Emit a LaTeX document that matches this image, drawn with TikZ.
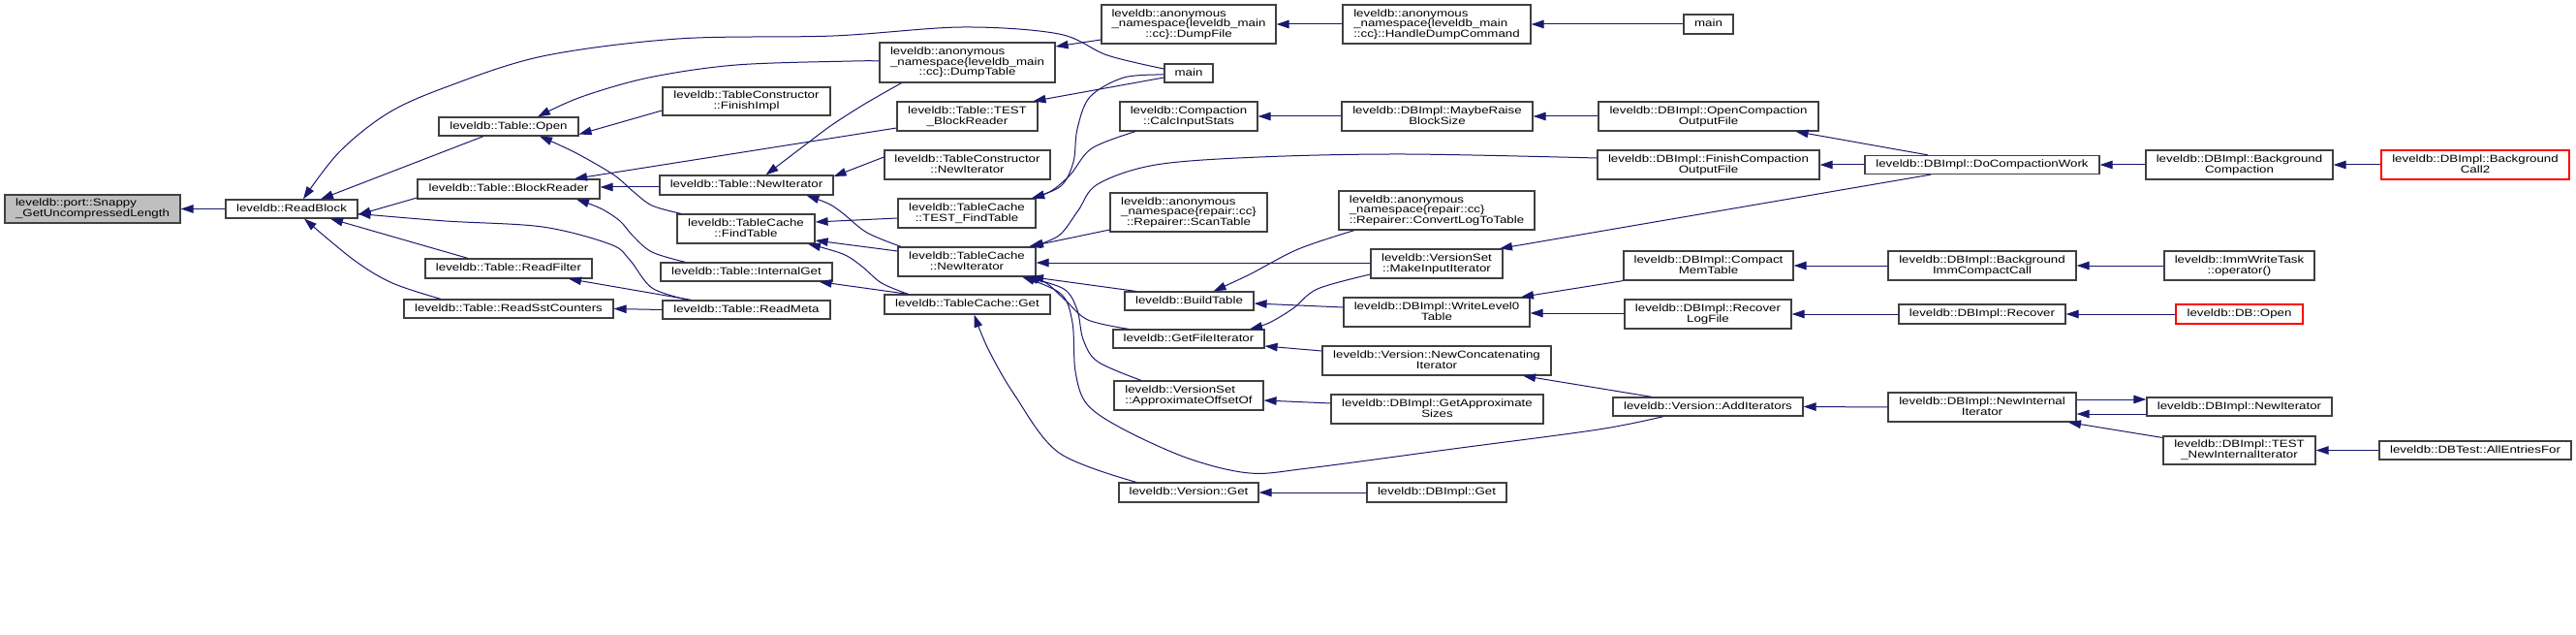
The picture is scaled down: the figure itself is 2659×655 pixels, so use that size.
\documentclass[tikz,border=0pt]{standalone}
\usepackage{fontspec}
\usepackage{graphicx}
\setmainfont{Liberation Sans}
\usetikzlibrary{arrows.meta}
\definecolor{edgeblue}{HTML}{191970}
\definecolor{boxline}{HTML}{404040}
\newcommand\one[1]{\scalebox{1}[0.8]{\vphantom{(}#1}}
\newcommand\twol[2]{\scalebox{1}[0.8]{\vphantom{(}\vbox{\baselineskip=13.4pt\lineskiplimit=-100pt\lineskip=0pt\halign{##\hfil\cr#1\cr\omit\hfil#2\hfil\cr}}}}
\newcommand\threel[3]{\scalebox{1}[0.8]{\vphantom{(}\vbox{\baselineskip=13.4pt\lineskiplimit=-100pt\lineskip=0pt\halign{##\hfil\cr#1\cr#2\cr\omit\hfil#3\hfil\cr}}}}
\begin{document}
\begin{tikzpicture}[x=1pt,y=-1pt,
  box/.style={draw=boxline, line width=1.2pt, fill=white, inner sep=0pt,
    font=\fontsize{13.3}{13.4}\selectfont, text=black},
  redbox/.style={box, draw=red},
  sz/.style 2 args={minimum width=#1pt, minimum height=#2pt},
  edge/.style={draw=edgeblue, line width=1pt, -{Triangle[length=13pt,width=8.5pt]}},
  sm/.style={smooth, tension=0.55}]
\fill[white] (0,0) rectangle (2659,655);
\useasboundingbox (0,0) rectangle (2659,655);

% column 0-1
\node[box, fill={rgb,255:red,191;green,191;blue,191}, sz={181}{29}] (snappy) at (95.5,215.5) {\twol{leveldb::port::Snappy}{\_GetUncompressedLength}};
\node[box, sz={136}{19}] (readblock) at (301,215.5) {\one{leveldb::ReadBlock}};
% column 2
\node[box, sz={144}{19}] (open) at (525,130.5) {\one{leveldb::Table::Open}};
\node[box, sz={188}{20}] (blockreader) at (525,195) {\one{leveldb::Table::BlockReader}};
\node[box, sz={172}{20}] (readfilter) at (525,277) {\one{leveldb::Table::ReadFilter}};
\node[box, sz={216}{19}] (readsst) at (525,318.5) {\one{leveldb::Table::ReadSstCounters}};
% column 3
\node[box, sz={173}{29}] (finishimpl) at (770.5,104.5) {\twol{leveldb::TableConstructor}{::FinishImpl}};
\node[box, sz={179}{20}] (tnewiter) at (770.5,191) {\one{leveldb::Table::NewIterator}};
\node[box, sz={142}{30}] (findtable) at (770,236) {\twol{leveldb::TableCache}{::FindTable}};
\node[box, sz={177}{19}] (internalget) at (770.5,280.5) {\one{leveldb::Table::InternalGet}};
\node[box, sz={173}{19}] (readmeta) at (770.5,319.5) {\one{leveldb::Table::ReadMeta}};
% column 4
\node[box, sz={181}{41}] (dumptable) at (998.5,64.5) {\threel{leveldb::anonymous}{\_namespace\{leveldb\_main}{::cc\}::DumpTable}};
\node[box, sz={145}{30}] (testblockreader) at (998.5,120) {\twol{leveldb::Table::TEST}{\_BlockReader}};
\node[box, sz={171}{30}] (tcnewiter) at (998.5,170) {\twol{leveldb::TableConstructor}{::NewIterator}};
\node[box, sz={142}{30}] (testfindtable) at (998,220) {\twol{leveldb::TableCache}{::TEST\_FindTable}};
\node[box, sz={142}{30}] (tcachenewiter) at (998,270) {\twol{leveldb::TableCache}{::NewIterator}};
\node[box, sz={171}{20}] (tcacheget) at (998.5,314) {\one{leveldb::TableCache::Get}};
% column 5
\node[box, sz={180}{40}] (dumpfile) at (1227,25) {\threel{leveldb::anonymous}{\_namespace\{leveldb\_main}{::cc\}::DumpFile}};
\node[box, sz={50}{19}] (main1) at (1227,75.5) {\one{main}};
\node[box, sz={142}{30}] (calcinputstats) at (1227,120) {\twol{leveldb::Compaction}{::CalcInputStats}};
\node[box, sz={162}{40}] (scantable) at (1227,219) {\threel{leveldb::anonymous}{\_namespace\{repair::cc\}}{::Repairer::ScanTable}};
\node[box, sz={133}{19}] (buildtable) at (1227.5,310.5) {\one{leveldb::BuildTable}};
\node[box, sz={156}{19}] (getfileiter) at (1227,349.5) {\one{leveldb::GetFileIterator}};
\node[box, sz={154}{30}] (approxoffset) at (1227,408) {\twol{leveldb::VersionSet}{::ApproximateOffsetOf}};
\node[box, sz={144}{20}] (versionget) at (1227,508) {\one{leveldb::Version::Get}};
% column 6
\node[box, sz={194}{40}] (handledump) at (1483,25) {\threel{leveldb::anonymous}{\_namespace\{leveldb\_main}{::cc\}::HandleDumpCommand}};
\node[box, sz={197}{30}] (mayberaise) at (1483.5,120) {\twol{leveldb::DBImpl::MaybeRaise}{BlockSize}};
\node[box, sz={202}{40}] (convertlog) at (1483,217) {\threel{leveldb::anonymous}{\_namespace\{repair::cc\}}{::Repairer::ConvertLogToTable}};
\node[box, sz={136}{30}] (makeinput) at (1483,272) {\twol{leveldb::VersionSet}{::MakeInputIterator}};
\node[box, sz={192}{30}] (writelevel0) at (1483,322) {\twol{leveldb::DBImpl::WriteLevel0}{Table}};
\node[box, sz={236}{30}] (newconcat) at (1483,372) {\twol{leveldb::Version::NewConcatenating}{Iterator}};
\node[box, sz={219}{30}] (getapprox) at (1483.5,422) {\twol{leveldb::DBImpl::GetApproximate}{Sizes}};
\node[box, sz={144}{20}] (dbget) at (1483,508) {\one{leveldb::DBImpl::Get}};
% column 7
\node[box, sz={51}{20}] (main2) at (1763.5,25) {\one{main}};
\node[box, sz={227}{30}] (opencomp) at (1763.5,120) {\twol{leveldb::DBImpl::OpenCompaction}{OutputFile}};
\node[box, sz={229}{30}] (finishcomp) at (1763.5,170) {\twol{leveldb::DBImpl::FinishCompaction}{OutputFile}};
\node[box, sz={175}{30}] (compactmem) at (1763.5,274) {\twol{leveldb::DBImpl::Compact}{MemTable}};
\node[box, sz={172}{30}] (recoverlog) at (1763,324) {\twol{leveldb::DBImpl::Recover}{LogFile}};
\node[box, sz={196}{19}] (additers) at (1763,419.5) {\one{leveldb::Version::AddIterators}};
% column 8
\node[box, sz={242}{19}] (docompact) at (2046,170) {\one{leveldb::DBImpl::DoCompactionWork}};
\node[box, sz={194}{30}] (bgimm) at (2046,274) {\twol{leveldb::DBImpl::Background}{ImmCompactCall}};
\node[box, sz={172}{20}] (dbrecover) at (2046,324) {\one{leveldb::DBImpl::Recover}};
\node[box, sz={194}{30}] (newinternal) at (2046,420) {\twol{leveldb::DBImpl::NewInternal}{Iterator}};
% column 9
\node[box, sz={193}{30}] (bgcompaction) at (2311.5,170) {\twol{leveldb::DBImpl::Background}{Compaction}};
\node[box, sz={155}{30}] (immwrite) at (2311.5,274) {\twol{leveldb::ImmWriteTask}{::operator()}};
\node[redbox, sz={131}{20}] (dbopen) at (2311.5,324) {\one{leveldb::DB::Open}};
\node[box, sz={191}{19}] (dbnewiter) at (2311.5,419.5) {\one{leveldb::DBImpl::NewIterator}};
\node[box, sz={157}{29}] (testnewinternal) at (2311.5,464.5) {\twol{leveldb::DBImpl::TEST}{\_NewInternalIterator}};
% column 10
\node[redbox, sz={194}{30}] (bgcall2) at (2555,170) {\twol{leveldb::DBImpl::Background}{Call2}};
\node[box, sz={198}{19}] (allentries) at (2555,464.5) {\one{leveldb::DBTest::AllEntriesFor}};

% ---------------- edges (caller -> callee) ----------------
\draw[edge] (readblock.west) -- (snappy.east);
\draw[edge] plot[sm] coordinates {([yshift=4.5pt]main1.west) (1143,57) (1093,35) (993,28) (860,37) (700,40) (560,58) (460,90) (400,117) (350,157) ([xshift=12pt]readblock.north)};
\draw[edge] ([xshift=-26pt]open.south) -- ([xshift=30pt]readblock.north);
\draw[edge] ([yshift=-9pt]blockreader.west) -- ([yshift=-6pt]readblock.east);
\draw[edge] plot[sm] coordinates {([xshift=-60pt]readmeta.north) (673,297) (650,268) (630,252) (560,234) (460,228) ([yshift=-5pt]readblock.east)};
\draw[edge] ([xshift=-42pt]readfilter.north) -- ([xshift=40pt]readblock.south);
\draw[edge] plot[sm] coordinates {([xshift=-70pt]readsst.north) (405,292) (365,268) ([xshift=13pt]readblock.south)};
\draw[edge] plot[sm] coordinates {([yshift=1.5pt]dumptable.west) (880,63) (760,67) (670,80) (600,100) ([xshift=30pt]open.north)};
\draw[edge] ([yshift=-9.5pt]finishimpl.west) -- ([yshift=-8pt]open.east);
\draw[edge] plot[sm] coordinates {([xshift=-67pt]findtable.north) (673,212) (653,197) (633,180) (593,157) ([xshift=32pt]open.south)};
\draw[edge] ([yshift=-12pt]testblockreader.west) -- ([xshift=68pt]blockreader.north);
\draw[edge] ([yshift=-2pt]tnewiter.west) -- ([yshift=2pt]blockreader.east);
\draw[edge] plot[sm] coordinates {([xshift=-63pt]internalget.north) (673,260) (653,243) (640,228) (620,215) ([xshift=70pt]blockreader.south)};
\draw[edge] ([xshift=-57pt]readmeta.north) -- ([xshift=62pt]readfilter.south);
\draw[edge] (readmeta.west) -- (readsst.east);
\draw[edge] plot[sm] coordinates {([xshift=-68pt]dumptable.south) (893,107) (860,128) (837,145) ([xshift=20pt]tnewiter.north)};
\draw[edge] ([yshift=8pt]tcnewiter.west) -- ([yshift=9pt]tnewiter.east);
\draw[edge] plot[sm] coordinates {([xshift=-68pt]tcachenewiter.north) (895,240) (870,220) (855,210) ([xshift=62pt]tnewiter.south)};
\draw[edge] ([yshift=-5pt]testfindtable.west) -- ([yshift=7pt]findtable.east);
\draw[edge] ([yshift=11pt]tcachenewiter.west) -- ([yshift=-12pt]findtable.east);
\draw[edge] plot[sm] coordinates {([xshift=-61pt]tcacheget.north) (910,292) (890,275) (870,262) ([xshift=64pt]findtable.south)};
\draw[edge] ([xshift=-61pt]tcacheget.north) -- ([xshift=75pt]internalget.south);
\draw[edge] ([yshift=-16pt]dumpfile.west) -- ([yshift=16.5pt]dumptable.east);
\draw[edge] ([yshift=-4.5pt]main1.west) -- ([xshift=68pt]testblockreader.north);
\draw[edge] plot[sm] coordinates {([yshift=-1.5pt]main1.west) (1160,80) (1125,100) (1112,133) (1108,167) (1095,192) ([xshift=67pt]testfindtable.north)};
\draw[edge] plot[sm] coordinates {([xshift=-55pt]calcinputstats.south) (1127,153) (1105,180) (1085,197) ([xshift=67pt]testfindtable.north)};
\draw[edge] ([yshift=-18pt]scantable.west) -- ([xshift=64pt]tcachenewiter.north);
\draw[edge] plot[sm] coordinates {([yshift=7pt]finishcomp.west) (1450,159) (1300,162) (1193,170) (1133,190) (1113,217) (1093,243) ([xshift=66pt]tcachenewiter.north)};
\draw[edge] ([yshift=1pt]makeinput.west) -- ([yshift=-1pt]tcachenewiter.east);
\draw[edge] ([xshift=-55pt]buildtable.north) -- ([xshift=66pt]tcachenewiter.south);
\draw[edge] plot[sm] coordinates {([xshift=-62pt]getfileiter.north) (1123,330) (1100,310) (1080,292) ([xshift=62pt]tcachenewiter.south)};
\draw[edge] plot[sm] coordinates {([xshift=-49pt]approxoffset.north) (1133,373) (1118,350) (1112,320) (1098,298) ([xshift=60pt]tcachenewiter.south)};
\draw[edge] plot[sm] coordinates {([xshift=-46pt]additers.south) (1650,443) (1500,463) (1350,483) (1290,488) (1227,473) (1160,443) (1122,417) (1110,383) (1107,333) (1095,303) ([xshift=57pt]tcachenewiter.south)};
\draw[edge] plot[sm] coordinates {([xshift=-54pt]versionget.north) (1093,467) (1047,407) (1020,360) ([xshift=7pt]tcacheget.south)};
\draw[edge] (handledump.west) -- (dumpfile.east);
\draw[edge] (main2.west) -- (handledump.east);
\draw[edge] (mayberaise.west) -- (calcinputstats.east);
\draw[edge] (opencomp.west) -- (mayberaise.east);
\draw[edge] plot[sm] coordinates {([xshift=-85pt]convertlog.south) (1340,257) (1290,283) ([xshift=25pt]buildtable.north)};
\draw[edge] ([yshift=5pt]writelevel0.west) -- ([yshift=-2.5pt]buildtable.east);
\draw[edge] plot[sm] coordinates {([yshift=-11pt]makeinput.west) (1360,298) (1335,318) (1310,333) ([xshift=63pt]getfileiter.north)};
\draw[edge] ([yshift=10pt]newconcat.west) -- ([yshift=-7.5pt]getfileiter.east);
\draw[edge] ([yshift=6pt]getapprox.west) -- ([yshift=-5pt]approxoffset.east);
\draw[edge] (dbget.west) -- (versionget.east);
\draw[edge] ([xshift=-56pt]docompact.north) -- ([xshift=90pt]opencomp.south);
\draw[edge] (docompact.west) -- (finishcomp.east);
\draw[edge] ([xshift=-53pt]docompact.south) -- ([xshift=65pt]makeinput.north);
\draw[edge] (compactmem.south west) -- ([xshift=87pt]writelevel0.north);
\draw[edge] ([yshift=1pt]recoverlog.west) -- ([yshift=-1pt]writelevel0.east);
\draw[edge] ([xshift=-58pt]additers.north) -- ([xshift=89pt]newconcat.south);
\draw[edge] (bgcompaction.west) -- (docompact.east);
\draw[edge] (bgimm.west) -- (compactmem.east);
\draw[edge] (dbrecover.west) -- (recoverlog.east);
\draw[edge] (newinternal.west) -- (additers.east);
\draw[edge] (bgcall2.west) -- (bgcompaction.east);
\draw[edge] (immwrite.west) -- (bgimm.east);
\draw[edge] (dbopen.west) -- (dbrecover.east);
\draw[edge] ([yshift=8pt]newinternal.east) -- ([yshift=7.5pt]dbnewiter.west);
\draw[edge] ([yshift=-7.5pt]dbnewiter.west) -- ([yshift=-7pt]newinternal.east);
\draw[edge] ([yshift=13pt]testnewinternal.west) -- ([xshift=89pt]newinternal.south);
\draw[edge] (allentries.west) -- (testnewinternal.east);
\end{tikzpicture}
\end{document}
